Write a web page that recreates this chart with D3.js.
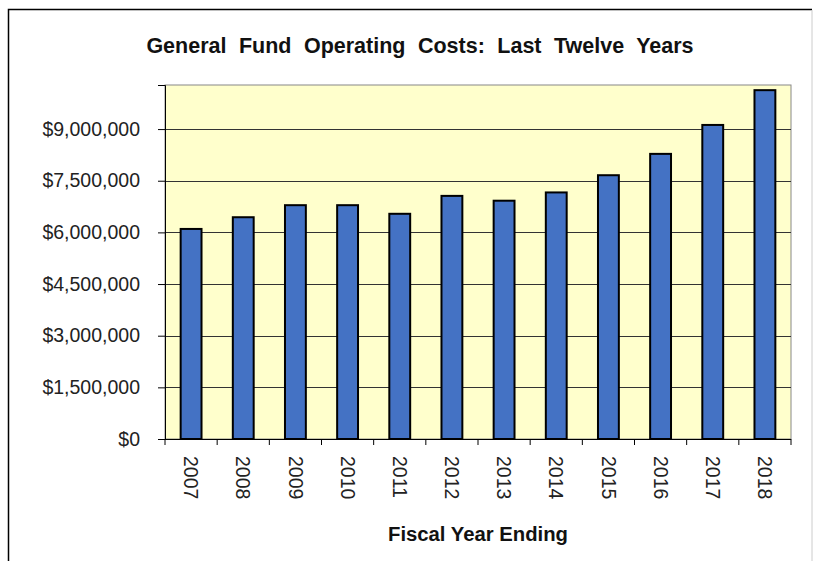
<!DOCTYPE html>
<html><head><meta charset="utf-8">
<script src="https://cdn.jsdelivr.net/npm/d3@7"></script>
<style>body{margin:0;background:#fff;}svg{display:block;font-family:Arial,"Liberation Sans",sans-serif;}</style>
</head><body>
<svg id="c" width="813" height="561"></svg>
<script>
const years = ["2007","2008","2009","2010","2011","2012","2013","2014","2015","2016","2017","2018"];
const costs = [6100000,6440000,6790000,6790000,6540000,7060000,6920000,7160000,7660000,8280000,9120000,10130000];
const yTicks = [0,1500000,3000000,4500000,6000000,7500000,9000000];
const title = "General Fund Operating Costs: Last Twelve Years";
const xTitle = "Fiscal Year Ending";

const svg = d3.select("#c");
const L=165, R=791, T=85, B=439;
svg.append("rect").attr("x",0).attr("y",0).attr("width",813).attr("height",561).attr("fill","#fff");
// outer frame
svg.append("path").attr("d","M8.5,600 V9.5 H812").attr("fill","none").attr("stroke","#000").attr("stroke-width",1.5);
svg.append("line").attr("x1",812).attr("x2",812).attr("y1",10).attr("y2",600).attr("stroke","#ccc");

const x = d3.scaleBand().domain(years).range([L,R]).paddingInner(0.6).paddingOuter(0.3);
const y = d3.scaleLinear().domain([0,10280000]).range([B,T]);

svg.append("rect").attr("x",L).attr("y",T).attr("width",R-L).attr("height",B-T).attr("fill","#FFFFCC").attr("stroke","#888").attr("stroke-width",1);

svg.append("g").selectAll("line").data(yTicks.filter(d=>d>0)).join("line")
  .attr("x1",L).attr("x2",R).attr("y1",d=>Math.round(y(d))+0.5).attr("y2",d=>Math.round(y(d))+0.5)
  .attr("stroke","#333").attr("stroke-width",1.2);

svg.append("g").selectAll("rect").data(years).join("rect")
  .attr("x",d=>x(d)).attr("width",x.bandwidth())
  .attr("y",(d,i)=>y(costs[i])).attr("height",(d,i)=>B-y(costs[i]))
  .attr("fill","#4472C4").attr("stroke","#000").attr("stroke-width",2);

// y axis
const ya = svg.append("g").attr("transform",`translate(${L},0)`)
  .call(d3.axisLeft(y).tickValues(yTicks).tickSize(7).tickPadding(18).tickFormat(d=>"$"+d3.format(",")(d)));
ya.select(".domain").attr("stroke","#000");
ya.selectAll("text").attr("font-size",19.5).attr("fill","#222").style("font-family","Arial,'Liberation Sans',sans-serif");

// x axis
const xa = svg.append("g").attr("transform",`translate(0,${B})`);
xa.append("line").attr("x1",L).attr("x2",R).attr("y1",0.5).attr("y2",0.5).attr("stroke","#000");
const bounds = d3.range(years.length+1).map(i=>L+i*(R-L)/years.length);
xa.selectAll("line.t").data(bounds).join("line").attr("class","t")
  .attr("x1",d=>d).attr("x2",d=>d).attr("y1",0).attr("y2",6).attr("stroke","#000");
xa.selectAll("text").data(years).join("text")
  .attr("transform",d=>`translate(${x(d)+x.bandwidth()/2},17) rotate(90)`)
  .attr("dy","0.35em").attr("text-anchor","start")
  .attr("font-size",19.5).attr("fill","#222").text(d=>d);

svg.append("text").attr("x",420).attr("y",53).attr("text-anchor","middle").attr("word-spacing","6.5px")
  .attr("font-size",21.5).attr("font-weight","bold").attr("fill","#111").text(title);
svg.append("text").attr("x",388).attr("y",541).attr("textLength",180).attr("lengthAdjust","spacingAndGlyphs")
  .attr("font-size",19.5).attr("font-weight","bold").attr("fill","#111").text(xTitle);
</script>
</body></html>
